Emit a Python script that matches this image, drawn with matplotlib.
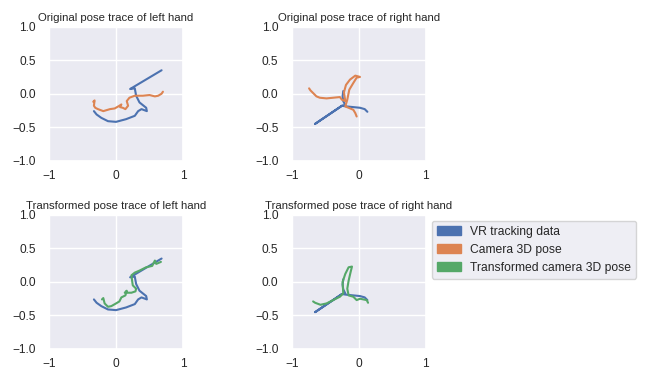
import matplotlib
matplotlib.use("Agg")
import matplotlib.pyplot as plt
from matplotlib.patches import Patch
import seaborn as sns

sns.set_theme(style="darkgrid")
plt.rcParams['font.family'] = ['Liberation Sans', 'DejaVu Sans']

# left hand, VR tracking (same in both rows)
vr_left_x = [0.68, 0.21, 0.28, 0.30, 0.35, 0.45, 0.46, 0.38, 0.33, 0.28, 0.15, 0.00, -0.12, -0.22, -0.29, -0.33]
vr_left_y = [0.35, 0.07, 0.08, -0.03, -0.13, -0.21, -0.26, -0.23, -0.26, -0.33, -0.38, -0.42, -0.41, -0.36, -0.31, -0.26]

# left hand, camera 3D pose
cam_left_x = [-0.34, -0.32, -0.33, -0.31, -0.27, -0.19, -0.09, -0.02, 0.05, 0.08, 0.06, 0.10, 0.14, 0.18, 0.16,
              0.20, 0.28, 0.40, 0.50, 0.58, 0.63, 0.68, 0.70]
cam_left_y = [-0.12, -0.10, -0.18, -0.21, -0.23, -0.26, -0.23, -0.22, -0.18, -0.16, -0.20, -0.21, -0.23, -0.18, -0.11,
              -0.06, -0.03, -0.03, -0.02, -0.04, -0.03, 0.00, 0.03]

# left hand, transformed camera pose
tr_left_x = [-0.21, -0.19, -0.17, -0.12, -0.07, 0.00, 0.05, 0.08, 0.14, 0.16, 0.13, 0.23, 0.29, 0.30, 0.25, 0.24,
             0.23, 0.28, 0.35, 0.45, 0.54, 0.58, 0.60, 0.67]
tr_left_y = [-0.26, -0.24, -0.32, -0.37, -0.36, -0.32, -0.29, -0.23, -0.20, -0.13, -0.16, -0.16, -0.14, -0.10, -0.05, 0.02,
             0.10, 0.14, 0.17, 0.22, 0.24, 0.32, 0.27, 0.30]

# right hand, VR tracking
vr_right_x = [-0.23, -0.24, -0.23, -0.20, -0.25, -0.65, -0.25, -0.18, -0.08, 0.02, 0.09, 0.13]
vr_right_y = [0.04, -0.04, -0.11, -0.17, -0.18, -0.45, -0.18, -0.19, -0.20, -0.21, -0.23, -0.27]

# right hand, camera 3D pose
cam_right_x = [-0.74, -0.72, -0.68, -0.63, -0.58, -0.48, -0.38, -0.28, -0.25, -0.20, -0.22, -0.19, -0.13, -0.05,
               0.02, -0.03, -0.08, -0.14, -0.17, -0.20, -0.15, -0.08, -0.05, -0.03]
cam_right_y = [0.08, 0.05, 0.01, -0.04, -0.06, -0.07, -0.06, -0.05, -0.09, -0.11, 0.02, 0.13, 0.21, 0.27,
               0.25, 0.24, 0.16, 0.06, -0.09, -0.19, -0.21, -0.24, -0.29, -0.34]

# right hand, transformed camera pose
tr_right_x = [-0.68, -0.65, -0.57, -0.48, -0.38, -0.28, -0.23, -0.24, -0.20, -0.15, -0.10, -0.12, -0.15, -0.17,
              -0.15, -0.08, -0.03, 0.02, 0.07, 0.12, 0.14]
tr_right_y = [-0.29, -0.31, -0.34, -0.32, -0.27, -0.22, -0.17, 0.00, 0.12, 0.22, 0.23, 0.15, 0.02, -0.10,
              -0.20, -0.22, -0.27, -0.25, -0.26, -0.27, -0.31]

titles = ["Original pose trace of left hand", "Original pose trace of right hand",
          "Transformed pose trace of left hand", "Transformed pose trace of right hand"]
legend_labels = ["VR tracking data", "Camera 3D pose", "Transformed camera 3D pose"]

c_vr, c_cam, c_tr = sns.color_palette("deep")[:3]

fig, axes = plt.subplots(2, 2, figsize=(6.46, 3.73), dpi=100)
plt.subplots_adjust(left=49 / 646, right=425.7 / 646, top=1 - 26.7 / 373, bottom=1 - 349 / 373,
                    wspace=0.81, hspace=0.405)

ax = axes[0, 0]
ax.plot(vr_left_x, vr_left_y, color=c_vr)
ax.plot(cam_left_x, cam_left_y, color=c_cam)

ax = axes[0, 1]
ax.plot(vr_right_x, vr_right_y, color=c_vr)
ax.plot(cam_right_x, cam_right_y, color=c_cam)

ax = axes[1, 0]
ax.plot(vr_left_x, vr_left_y, color=c_vr)
ax.plot(tr_left_x, tr_left_y, color=c_tr)

ax = axes[1, 1]
ax.plot(vr_right_x, vr_right_y, color=c_vr)
ax.plot(tr_right_x, tr_right_y, color=c_tr)

for ax, t in zip(axes.flat, titles):
    ax.set_xlim(-1, 1)
    ax.set_ylim(-1, 1)
    ax.set_xticks([-1, 0, 1])
    ax.set_yticks([-1.0, -0.5, 0.0, 0.5, 1.0])
    ax.set_aspect('equal')
    ax.tick_params(labelsize=8.6)
    ax.tick_params(axis='x', pad=0.5)
    ax.set_title(t, fontsize=8.2, pad=4)

handles = [Patch(color=c) for c in (c_vr, c_cam, c_tr)]
axes[1, 1].legend(handles, legend_labels, loc='upper left', bbox_to_anchor=(1.0, 1.0), fontsize=8.7)

plt.savefig("out.png", dpi=100)
